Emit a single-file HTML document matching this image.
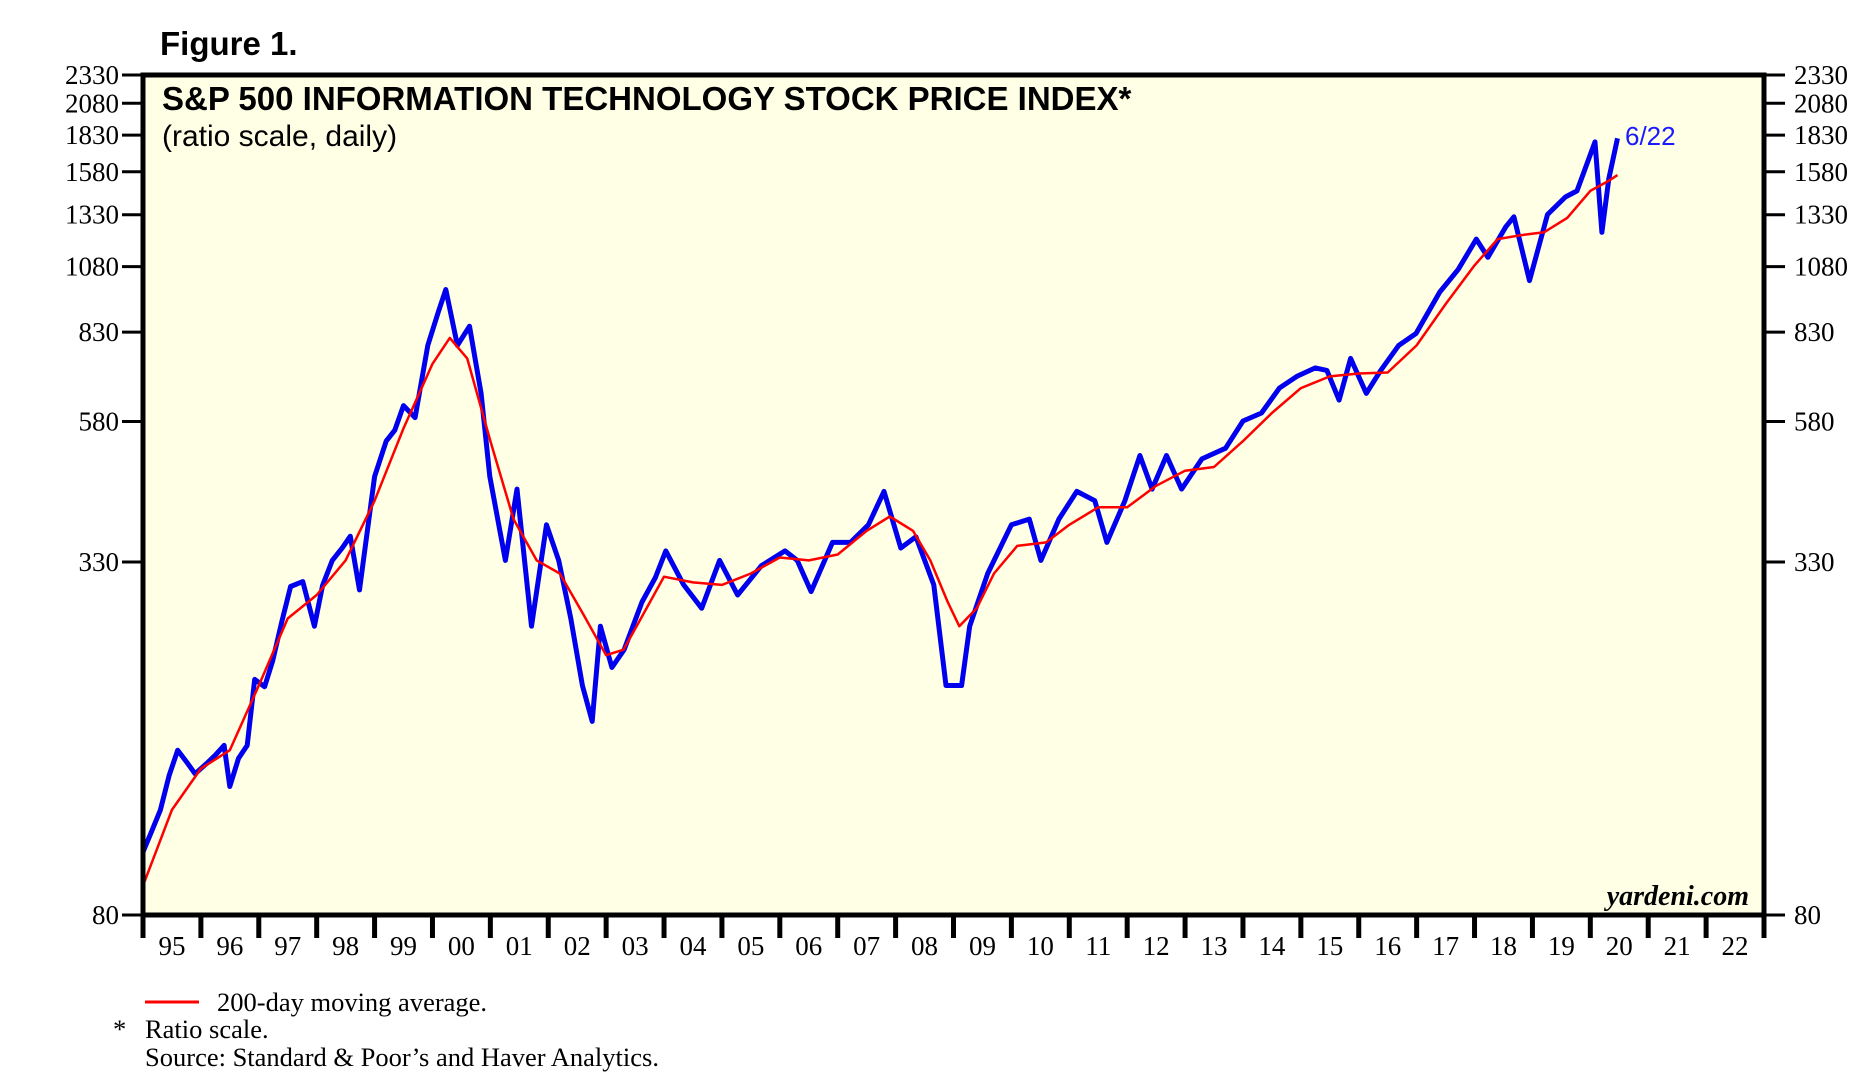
<!DOCTYPE html>
<html><head><meta charset="utf-8"><style>
html,body{margin:0;padding:0;background:#fff;}
svg{display:block;}
.serif{font-family:"Liberation Serif",serif;}
.sans{font-family:"Liberation Sans",sans-serif;}
</style></head><body>
<svg id="chart" width="1868" height="1088" viewBox="0 0 1868 1088" xmlns="http://www.w3.org/2000/svg">
<text x="160" y="55" class="sans" font-size="33" font-weight="bold">Figure 1.</text>
<rect x="143" y="75" width="1621" height="840" fill="#ffffe6"/>
<text x="162" y="110" class="sans" font-size="33" font-weight="bold">S&amp;P 500 INFORMATION TECHNOLOGY STOCK PRICE INDEX*</text>
<text x="162" y="146" class="sans" font-size="30">(ratio scale, daily)</text>
<text x="1749" y="905" class="serif" font-size="28" font-weight="bold" font-style="italic" text-anchor="end">yardeni.com</text>
<g id="axes"></g>
<g id="series"></g>
<rect x="143" y="75" width="1621" height="840" fill="none" stroke="#000" stroke-width="5"/>
<text x="1625" y="145" class="sans" font-size="26" fill="#1a1aff">6/22</text>
<line x1="145" y1="1002" x2="199" y2="1002" stroke="#ff0000" stroke-width="3"/>
<text x="217" y="1011" class="serif" font-size="26.5">200-day moving average.</text>
<text x="113" y="1038" class="serif" font-size="26.5">*</text>
<text x="145" y="1038" class="serif" font-size="26.5">Ratio scale.</text>
<text x="145" y="1066" class="serif" font-size="26.5">Source: Standard &amp; Poor’s and Haver Analytics.</text>
</svg>
<script>
const yTicks = [80, 330, 580, 830, 1080, 1330, 1580, 1830, 2080, 2330];
const yearLabels = ["95","96","97","98","99","00","01","02","03","04","05","06","07","08","09","10","11","12","13","14","15","16","17","18","19","20","21","22"];
const priceDates = [1995.0,1995.15,1995.3,1995.45,1995.6,1995.75,1995.9,1996.1,1996.25,1996.4,1996.5,1996.65,1996.8,1996.93,1997.1,1997.24,1997.4,1997.55,1997.76,1997.96,1998.1,1998.27,1998.45,1998.58,1998.74,1999.0,1999.2,1999.35,1999.5,1999.7,1999.92,2000.1,2000.23,2000.43,2000.64,2000.84,2000.99,2001.26,2001.46,2001.71,2001.97,2002.18,2002.39,2002.59,2002.76,2002.9,2003.1,2003.31,2003.62,2003.85,2004.03,2004.34,2004.65,2004.96,2005.27,2005.68,2006.09,2006.3,2006.54,2006.91,2007.22,2007.53,2007.8,2008.09,2008.35,2008.66,2008.87,2009.14,2009.28,2009.59,2010.0,2010.31,2010.51,2010.82,2011.13,2011.44,2011.65,2011.96,2012.22,2012.43,2012.68,2012.94,2013.29,2013.7,2014.0,2014.32,2014.63,2014.93,2015.25,2015.45,2015.66,2015.86,2016.13,2016.38,2016.69,2016.99,2017.4,2017.72,2018.03,2018.23,2018.54,2018.68,2018.95,2019.26,2019.57,2019.77,2020.08,2020.2,2020.32,2020.47];
const priceValues = [103,112,122,140,155,148,141,147,152,158,134,150,158,206,200,222,260,299,305,255,300,332,350,366,295,465,536,560,618,589,787,900,985,787,850,649,465,332,442,255,383,332,263,201,174,255,216,232,281,310,345,301,274,332,289,325,345,332,293,357,357,383,438,349,365,301,201,201,255,315,383,392,332,392,438,422,357,422,506,442,506,442,499,521,581,600,663,695,719,712,632,747,649,712,787,826,975,1068,1206,1121,1267,1319,1021,1331,1428,1463,1781,1239,1536,1807];
const maDates = [1995.0,1995.5,1996.0,1996.5,1997.0,1997.5,1998.0,1998.5,1999.0,1999.5,2000.0,2000.3,2000.6,2001.0,2001.4,2001.8,2002.2,2002.6,2003.0,2003.3,2003.6,2004.0,2004.5,2005.0,2005.5,2006.0,2006.5,2007.0,2007.5,2007.9,2008.3,2008.6,2008.9,2009.1,2009.4,2009.7,2010.1,2010.6,2011.0,2011.5,2012.0,2012.5,2013.0,2013.5,2014.0,2014.5,2015.0,2015.5,2016.0,2016.5,2017.0,2017.5,2018.0,2018.4,2018.8,2019.2,2019.6,2020.0,2020.3,2020.47];
const maValues = [90,122,144,155,201,263,289,332,422,564,731,811,747,536,392,332,315,268,227,232,263,311,304,301,315,336,332,340,374,396,374,332,281,255,274,315,352,357,383,411,411,448,476,483,536,600,663,695,703,706,787,929,1085,1206,1225,1239,1313,1463,1520,1559];

const NS = "http://www.w3.org/2000/svg";
const X0 = 143, X1 = 1764, Y0 = 915, Y1 = 75, YEAR0 = 1995;
const yearW = (X1 - X0) / yearLabels.length;
const xScale = t => X0 + yearW * (t - YEAR0);
const yScale = v => Y0 - (Y0 - Y1) * Math.log(v / 80) / Math.log(2330 / 80);
function mk(tag, attrs, parent, text) {
  const e = document.createElementNS(NS, tag);
  for (const k in attrs) e.setAttribute(k, attrs[k]);
  if (text !== undefined) e.textContent = text;
  parent.appendChild(e);
  return e;
}
const axes = document.getElementById('axes');
const series = document.getElementById('series');
yTicks.forEach(v => {
  const y = yScale(v);
  const l1 = mk('line', {x1: 122, y1: y, x2: 143, y2: y, stroke: '#000', 'stroke-width': 3}, axes);
  
  
  const t1 = mk('text', {x: 119, y: y + 9, 'text-anchor': 'end', 'font-size': 27, 'font-family': '"Liberation Serif", serif'}, axes, String(v));
  
  
  const l2 = mk('line', {x1: 1764, y1: y, x2: 1785, y2: y, stroke: '#000', 'stroke-width': 3}, axes);
  
  
  const t2 = mk('text', {x: 1794, y: y + 9, 'font-size': 27, 'font-family': '"Liberation Serif", serif'}, axes, String(v));
  
  
});
for (let i = 0; i <= yearLabels.length; i++) {
  const x = xScale(YEAR0 + i);
  const l = mk('line', {x1: x, y1: 915, x2: x, y2: 938, stroke: '#000', 'stroke-width': 5}, axes);
  
  
}
yearLabels.forEach((lab, i) => {
  const t = mk('text', {x: xScale(YEAR0 + i + 0.5), y: 955, 'text-anchor': 'middle', 'font-size': 27, 'font-family': '"Liberation Serif", serif'}, axes, lab);
  
  
});
function pathFrom(ds, vs) {
  return ds.map((d, i) => (i ? 'L' : 'M') + xScale(d).toFixed(1) + ',' + yScale(vs[i]).toFixed(1)).join(' ');
}
const blue = mk('path', {d: pathFrom(priceDates, priceValues), fill: 'none', stroke: '#0000ee', 'stroke-width': 5, 'stroke-linejoin': 'round'}, series);


const red = mk('path', {d: pathFrom(maDates, maValues), fill: 'none', stroke: '#ff0000', 'stroke-width': 2.5, 'stroke-linejoin': 'round'}, series);


</script>
</body></html>
